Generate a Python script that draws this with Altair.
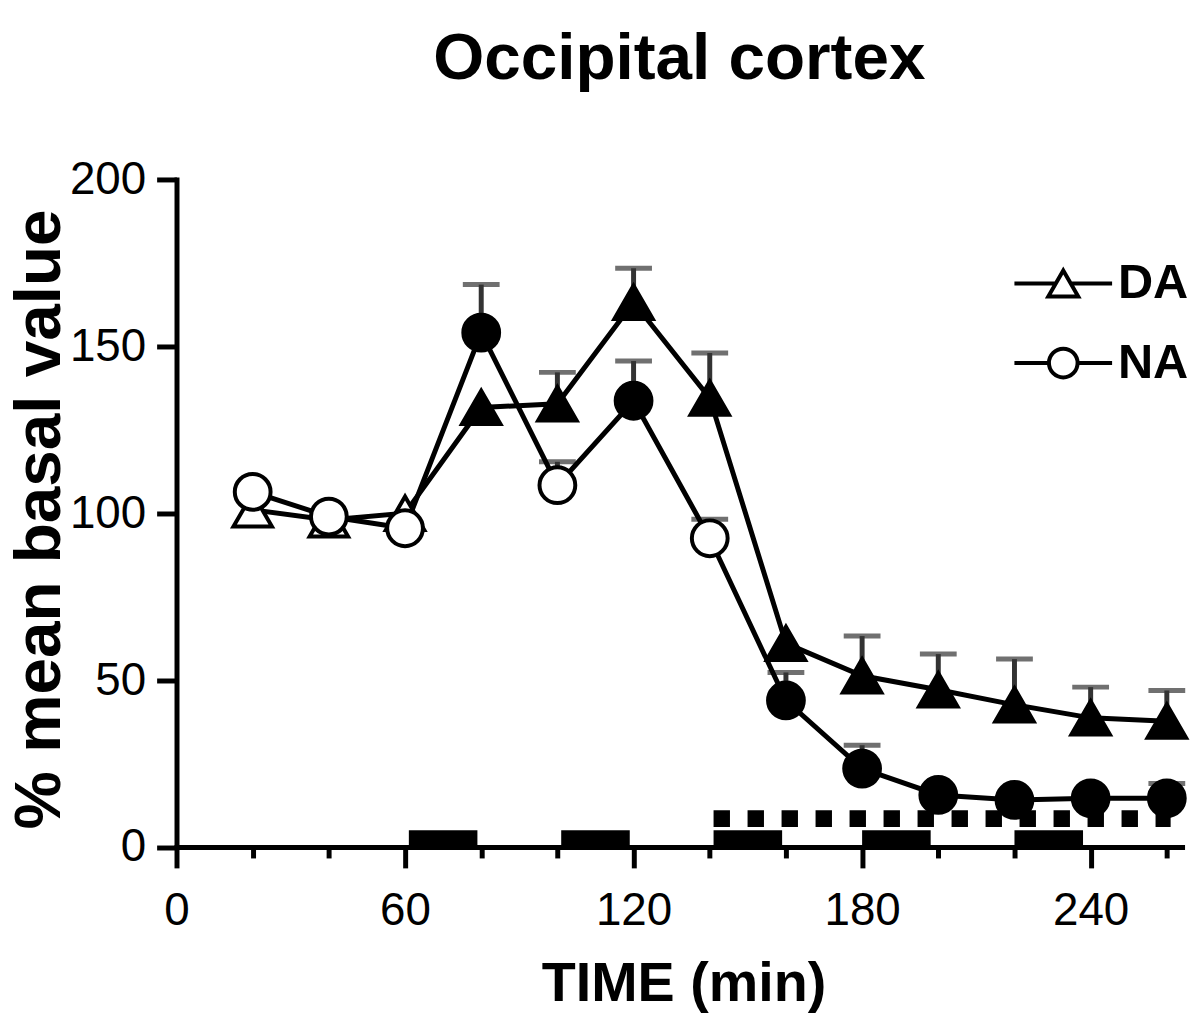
import altair as alt
import pandas as pd

# ---------------- data ----------------
times = [20, 40, 60, 80, 100, 120, 140, 160, 180, 200, 220, 240, 260]

da_mean = [101, 98, 100, 131.7, 132.8, 163.2, 134.5, 61, 51.3, 47.1, 42.6, 38.7, 37.7]
da_upper = [None, None, None, None, 142.2, 173.4, 148, None, 63.2, 57.8, 56.3, 47.9, 46.9]
da_fill = ["open", "open", "open", "filled", "filled", "filled", "filled",
           "filled", "filled", "filled", "filled", "filled", "filled"]

na_mean = [106.4, 99, 95.5, 154.1, 108.4, 133.7, 92.5, 43.9, 23.5, 15.6, 14.1, 14.6, 14.6]
na_upper = [None, None, None, 168.5, 115.4, 145.6, 98.2, 52.3, 30.5, None, None, None, 19]
na_fill = ["open", "open", "open", "filled", "open", "filled", "open",
           "filled", "filled", "filled", "filled", "filled", "filled"]

series_names = ["DA", "NA"]

# stimulation periods (solid bars) and continuous treatment (dotted bar)
bar_start = [61, 101, 141, 180, 220]
bar_end = [79, 119, 159, 198, 238]
dot_start = [141]
dot_end = [261]

x_all_ticks = list(range(0, 261, 20))
y_ticks = [0, 50, 100, 150, 200]

# ---------------- tables ----------------
rows = []
for s, means, ups, fills in [("DA", da_mean, da_upper, da_fill), ("NA", na_mean, na_upper, na_fill)]:
    for t, m, u, f in zip(times, means, ups, fills):
        rows.append({"time": t, "value": m, "upper": u, "series": s, "fill": f})
df = pd.DataFrame(rows)
bars = pd.DataFrame({"start": bar_start, "end": bar_end})
dots = pd.DataFrame({"start": dot_start, "end": dot_end})
legend_df = pd.DataFrame({"series": series_names})

FONT = "Liberation Sans"
W, H = 1011.5, 671.5

xscale = alt.Scale(domain=[0, 264], nice=False, zero=False)
yscale = alt.Scale(domain=[0, 200], nice=False, zero=False)

xaxis = alt.Axis(
    values=x_all_ticks,
    labelExpr="datum.value % 60 === 0 ? datum.label : ''",
    tickSize={"condition": {"test": "datum.value % 60 === 0", "value": 21}, "value": 11},
    tickWidth=5, tickColor="black",
    domainWidth=5, domainColor="black", domainCap="square",
    labelFont=FONT, labelFontSize=46, labelColor="black", labelPadding=21,
    labelFlush=False, labelOverlap=False, grid=False,
    title="TIME (min)", titleFont=FONT, titleFontSize=56, titleFontWeight="bold",
    titleColor="black", titleX=510, titleY=154, titleBaseline="alphabetic", titleAlign="center",
)
yaxis = alt.Axis(
    values=y_ticks,
    tickSize=20, tickWidth=5, tickColor="black",
    domainWidth=5, domainColor="black", domainCap="square",
    labelFont=FONT, labelFontSize=46, labelColor="black", labelPadding=11, grid=False,
    title="% mean basal value", titleFont=FONT, titleFontSize=66, titleFontWeight="bold",
    titleColor="black", titleX=-118, titleY=341.5, titleAngle=-90,
    titleBaseline="alphabetic", titleAlign="center",
)


def X(field):
    return alt.X(field, type="quantitative", scale=xscale, axis=xaxis)


def Y(field):
    return alt.Y(field, type="quantitative", scale=yscale, axis=yaxis)


base = alt.Chart(df)

err_rule = base.transform_filter("isValid(datum.upper)").mark_rule(
    color="#333333", strokeWidth=5
).encode(x=X("time"), y=Y("value"), y2="upper:Q")

err_cap = base.transform_filter("isValid(datum.upper)").mark_tick(
    orient="horizontal", color="#333333", thickness=5, size=37
).encode(x=X("time"), y=Y("upper"))

lines = base.mark_line(color="black", strokeWidth=5).encode(
    x=X("time"), y=Y("value"), detail="series:N"
)

fill_enc = alt.Fill("fill:N", scale=alt.Scale(domain=["filled", "open"], range=["black", "white"]), legend=None)

da_pts = base.transform_filter("datum.series === 'DA'").mark_point(
    shape="triangle-up", filled=True, size=1500, stroke="black", strokeWidth=4, opacity=1
).encode(x=X("time"), y=Y("value"), fill=fill_enc)

na_pts = base.transform_filter("datum.series === 'NA'").mark_point(
    shape="circle", filled=True, size=1296, stroke="black", strokeWidth=4, opacity=1
).encode(x=X("time"), y=Y("value"), fill=fill_enc)

bar_layer = alt.Chart(bars).mark_rect(color="black").encode(
    x=X("start"), x2="end:Q", y=alt.datum(5), y2=alt.datum(-0.7)
)

dot_layer = alt.Chart(dots).mark_rule(
    color="black", strokeWidth=17, strokeDash=[16.5, 17.7], strokeCap="butt"
).encode(x=X("start"), x2="end:Q", y=alt.datum(8.5))

tri_path = "M-1.5,0 L-0.23,0 M0.23,0 L1.5,0 M0,-0.4 L0.46,0.4 L-0.46,0.4 Z"
circ_path = ("M-1.5,0 L-0.44,0 M0.44,0 L1.5,0 "
             "M-0.44,0 A0.44,0.44 0 1,1 0.44,0 A0.44,0.44 0 1,1 -0.44,0 Z")

legend_layer = alt.Chart(legend_df).transform_filter("false").mark_point(
    filled=False, color="black", strokeWidth=4, opacity=1
).encode(
    shape=alt.Shape(
        "series:N",
        scale=alt.Scale(domain=series_names, range=[tri_path, circ_path]),
        legend=alt.Legend(
            title=None, orient="none", legendX=857, legendY=69.7, padding=0,
            symbolSize=4290, symbolStrokeWidth=4, symbolStrokeColor="black", symbolOpacity=1,
            labelFont=FONT, labelFontSize=49, labelFontWeight="bold",
            labelColor="black", labelOffset=20, rowPadding=20,
        ),
    )
)

chart = alt.layer(
    bar_layer, dot_layer, err_rule, err_cap, lines, da_pts, na_pts, legend_layer
).properties(
    width=W, height=H,
    title=alt.TitleParams(
        "Occipital cortex", font=FONT, fontSize=66, fontWeight="bold", color="black",
        anchor="middle", frame="group", baseline="alphabetic", offset=12,
    ),
    background="white",
    autosize=alt.AutoSizeParams(type="none"),
    padding={"left": 169.5, "top": 169.5, "right": 10, "bottom": 165},
).configure_view(stroke="transparent")

chart.save("out.html", embed_options={"renderer": "svg", "actions": False})
